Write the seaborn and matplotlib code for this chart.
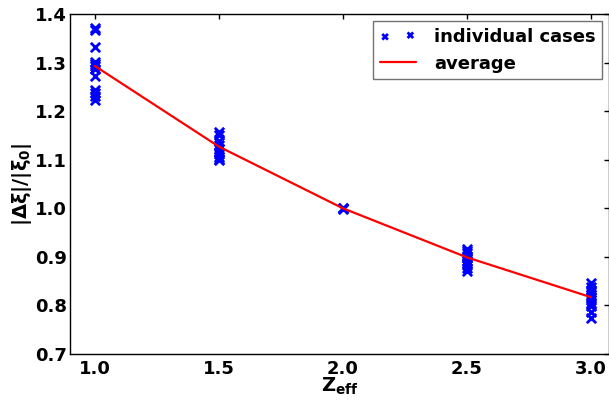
import pandas as pd
import matplotlib
matplotlib.use("Agg")
import matplotlib.pyplot as plt
import seaborn as sns

# Individual cases
z_eff_cases = [1.0] * 12 + [1.5] * 10 + [2.0] * 3 + [2.5] * 10 + [3.0] * 11
ratio_cases = [1.372, 1.368, 1.332, 1.302, 1.298, 1.292, 1.287, 1.272, 1.243, 1.238, 1.232, 1.222,
               1.157, 1.150, 1.138, 1.130, 1.122, 1.116, 1.112, 1.106, 1.102, 1.100,
               1.001, 1.000, 0.999,
               0.917, 0.912, 0.907, 0.902, 0.897, 0.892, 0.888, 0.883, 0.877, 0.871,
               0.847, 0.838, 0.832, 0.827, 0.822, 0.817, 0.812, 0.806, 0.798, 0.787, 0.775]

# Average curve
z_eff_avg = [1.0, 1.5, 2.0, 2.5, 3.0]
ratio_avg = [1.293, 1.127, 1.0, 0.899, 0.817]

cases = pd.DataFrame({"z": z_eff_cases, "ratio": ratio_cases})
avg = pd.DataFrame({"z": z_eff_avg, "ratio": ratio_avg})

sns.set_style("white")
plt.rcParams["font.family"] = ["DejaVu Sans"]
plt.rcParams["font.weight"] = "bold"
plt.rcParams["mathtext.default"] = "bf"
plt.rcParams["text.color"] = "black"
plt.rcParams["axes.labelcolor"] = "black"
plt.rcParams["xtick.color"] = "black"
plt.rcParams["ytick.color"] = "black"

fig, ax = plt.subplots(figsize=(6.09, 4.0), dpi=100)

sns.scatterplot(data=cases, x="z", y="ratio", marker="x", color="blue", s=45,
                linewidth=2, label="individual cases", ax=ax, zorder=2)
sns.lineplot(data=avg, x="z", y="ratio", color="red", linewidth=1.6,
             label="average", ax=ax, zorder=3)

ax.set_xlim(0.9, 3.073)
ax.set_ylim(0.7, 1.4)
ax.set_xticks([1.0, 1.5, 2.0, 2.5, 3.0])
ax.set_yticks([0.7, 0.8, 0.9, 1.0, 1.1, 1.2, 1.3, 1.4])
ax.tick_params(axis="both", which="both", top=True, right=True, length=3.5,
               width=1, labelsize=13, direction="in")
ax.tick_params(axis="x", pad=4)
ax.tick_params(axis="y", pad=2)
for lbl in ax.get_xticklabels() + ax.get_yticklabels():
    lbl.set_fontweight("bold")
for spine in ax.spines.values():
    spine.set_color("black")
    spine.set_linewidth(1.0)

ax.set_xlabel(r"$\mathbf{Z_{eff}}$", fontsize=14, labelpad=-1)
ax.set_ylabel(r"$|\Delta\xi|/|\xi_0|$", fontsize=14, labelpad=1)

leg = ax.legend(loc="upper right", fontsize=13, frameon=True, fancybox=False,
                scatterpoints=2, markerscale=0.6, borderaxespad=0.4,
                handlelength=2.0, handletextpad=1.0, borderpad=0.35)
leg.get_frame().set_edgecolor("0.3")
leg.get_frame().set_linewidth(1.0)
for t in leg.get_texts():
    t.set_fontweight("bold")

fig.subplots_adjust(left=0.115, right=1.0, top=0.965, bottom=0.115)
fig.savefig("out.png", dpi=100)
